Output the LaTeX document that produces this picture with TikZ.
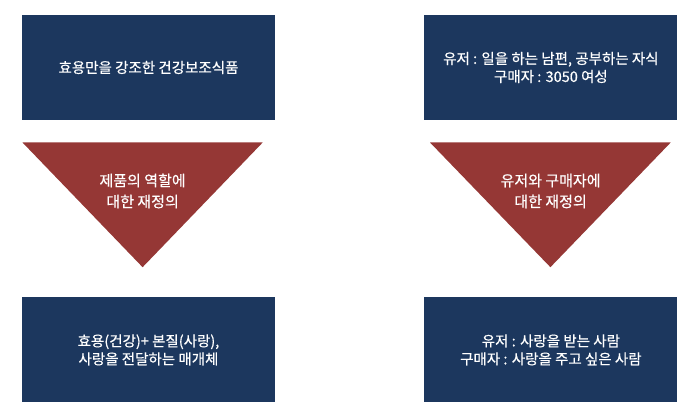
\documentclass[tikz,border=0pt]{standalone}
\usepackage{fontspec}
\newfontfamily\krfont{Noto Sans CJK KR}[FakeBold=0.5]
\usetikzlibrary{positioning}
\definecolor{boxnavy}{HTML}{1C375E}
\definecolor{trired}{HTML}{953735}

\begin{document}
\begin{tikzpicture}[x=1pt, y=1pt,
        % Define styles for the boxes and the triangle labels
        infobox/.style={fill=boxnavy, minimum width=253pt, minimum height=105pt, inner sep=0pt, align=center, text=white, font=\krfont\fontsize{14.5}{18}\selectfont},
        tritext/.style={inner sep=0pt, align=center, text=white, font=\krfont\fontsize{15}{21}\selectfont}
    ]
    \useasboundingbox (0,0) rectangle (700,412);

    % --- TOP BOXES ---
    \node[infobox] (ltop) at (148.5,344.5) {효용만을 강조한 건강보조식품};
    \node[infobox, right=149pt of ltop] (rtop) {유저 : 일을 하는 남편, 공부하는 자식\\구매자 : 3050 여성};

    % --- TRIANGLES ---
    \fill[trired] (22.5,269.5) -- (262.7,269.5) -- (142.6,144.8) -- cycle;
    \fill[trired] (430,269.5) -- (670.7,269.5) -- (550.4,144.8) -- cycle;
    \node[tritext] (ltri) at (142.6,221) {제품의 역할에\\대한 재정의};
    \node[tritext] (rtri) at (550.6,221) {유저와 구매자에\\대한 재정의};

    % --- BOTTOM BOXES ---
    \node[infobox, below=177pt of ltop] (lbot) {효용(건강)+ 본질(사랑),\\사랑을 전달하는 매개체};
    \node[infobox, below=177pt of rtop] (rbot) {유저 : 사랑을 받는 사람\\구매자 : 사랑을 주고 싶은 사람};

\end{tikzpicture}
\end{document}
